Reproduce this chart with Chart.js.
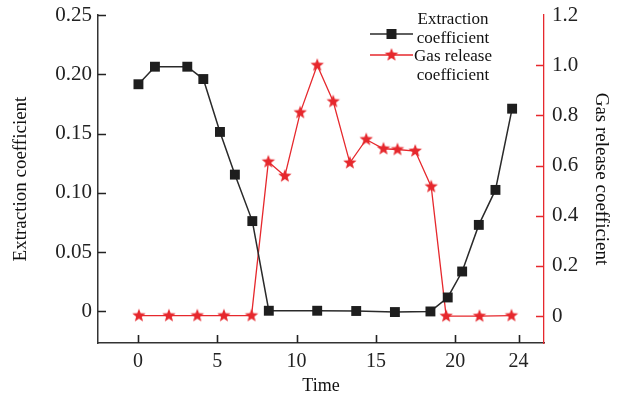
<!DOCTYPE html>
<html>
<head>
<meta charset="utf-8">
<script src="https://cdn.jsdelivr.net/npm/chart.js@4.4.1/dist/chart.umd.min.js"></script>
<style>
  html, body { margin: 0; padding: 0; background: #fff; }
  #wrap { width: 617px; height: 396px; }
</style>
</head>
<body>
<div id="wrap"><canvas id="chart" width="617" height="396"></canvas></div>
<script>
// datos
const extractionTime = [0.03, 1.07, 3.11, 4.12, 5.17, 6.11, 7.21, 8.25, 11.3, 13.76, 16.2, 18.44, 19.53, 20.44, 21.49, 22.54, 23.59];
const extractionCoef = [0.1916, 0.2064, 0.2064, 0.196, 0.1514, 0.1154, 0.0762, 0.0006, 0.0006, 0.0004, -0.0005, 0.0, 0.0118, 0.0337, 0.073, 0.1025, 0.171];

const gasTime = [0.06, 1.95, 3.74, 5.42, 7.16, 8.22, 9.26, 10.23, 11.3, 12.31, 13.36, 14.39, 15.48, 16.36, 17.48, 18.49, 19.43, 21.53, 23.55];
const gasCoef = [0.002, 0.002, 0.002, 0.002, 0.002, 0.615, 0.558, 0.811, 1.0, 0.855, 0.611, 0.704, 0.667, 0.664, 0.658, 0.516, 0.0, 0.0, 0.002];

const xTicks = [0, 5, 10, 15, 20, 24];
const leftTicks = [0, 0.05, 0.10, 0.15, 0.20, 0.25];
const rightTicks = [0, 0.2, 0.4, 0.6, 0.8, 1.0, 1.2];

const FONT = '"Liberation Serif", "Times New Roman", serif';
const RED = '#e6282d';
const BLACK = '#1e1e1e';

function makeStar(r, color) {
    const c = document.createElement('canvas');
    const s = Math.ceil(r * 2 + 2);
    c.width = s; c.height = s;
    const g = c.getContext('2d');
    g.fillStyle = color;
    g.beginPath();
    for (let i = 0; i < 10; i++) {
        const rad = i % 2 === 0 ? r : r * 0.42;
        const a = -Math.PI / 2 + i * Math.PI / 5;
        const px = s / 2 + rad * Math.cos(a);
        const py = s / 2 + rad * Math.sin(a);
        if (i === 0) g.moveTo(px, py); else g.lineTo(px, py);
    }
    g.closePath();
    g.fill();
    return c;
}
const starImg = makeStar(7, RED);

// marcas cortas hacia dentro del área
const innerTicks = {
    id: 'innerTicks',
    afterDraw(chart) {
        const ctx = chart.ctx;
        const a = chart.chartArea;
        const len = 8;
        const sx = chart.scales.x, sy = chart.scales.y, sy1 = chart.scales.y1;
        ctx.save();
        ctx.lineWidth = 1.6;
        ctx.strokeStyle = '#222';
        ctx.beginPath();
        for (const v of xTicks) {
            const px = Math.round(sx.getPixelForValue(v)) + 0.5;
            ctx.moveTo(px, a.bottom);
            ctx.lineTo(px, a.bottom - len);
        }
        for (const v of leftTicks) {
            const py = Math.round(sy.getPixelForValue(v)) + 0.5;
            ctx.moveTo(a.left, py);
            ctx.lineTo(a.left + len, py);
        }
        ctx.stroke();
        ctx.strokeStyle = RED;
        ctx.beginPath();
        for (const v of rightTicks.slice(0, -1)) {
            const py = Math.round(sy1.getPixelForValue(v)) + 0.5;
            ctx.moveTo(a.right, py);
            ctx.lineTo(a.right - len, py);
        }
        ctx.stroke();
        ctx.restore();
    }
};

// leyenda con texto en dos líneas
const twoLineLegend = {
    id: 'twoLineLegend',
    afterDraw(chart) {
        const ctx = chart.ctx;
        const items = [
            { lines: ['Extraction', 'coefficient'], lineY: 34, textY: [20, 39], ds: 0 },
            { lines: ['Gas release', 'coefficient'], lineY: 55, textY: [57, 76], ds: 1 }
        ];
        ctx.save();
        ctx.font = '17px ' + FONT;
        ctx.textAlign = 'center';
        ctx.textBaseline = 'middle';
        items.forEach(it => {
            const ds = chart.data.datasets[it.ds];
            ctx.strokeStyle = ds.borderColor;
            ctx.lineWidth = ds.borderWidth;
            ctx.beginPath(); ctx.moveTo(370, it.lineY); ctx.lineTo(413, it.lineY); ctx.stroke();
            if (it.ds === 0) {
                ctx.fillStyle = BLACK;
                ctx.fillRect(391.5 - 5, it.lineY - 5, 10, 10);
            } else {
                ctx.drawImage(starImg, 391.5 - starImg.width / 2, it.lineY - starImg.height / 2);
            }
            ctx.fillStyle = '#111';
            ctx.fillText(it.lines[0], 453, it.textY[0]);
            ctx.fillText(it.lines[1], 453, it.textY[1]);
        });
        ctx.restore();
    }
};

function fixedBox(w, h) {
    return s => {
        if (w) s.width = w;
        if (h) s.height = h;
        s.paddingTop = 0; s.paddingBottom = 0;
        s.paddingLeft = 0; s.paddingRight = 0;
    };
}

document.addEventListener('DOMContentLoaded', function() {
    if (typeof Chart === 'undefined') {
        console.error('Chart.js no está disponible');
        return;
    }
    const ctx = document.getElementById('chart').getContext('2d');
    const noGrid = { display: false, drawTicks: false, tickLength: 0 };

    new Chart(ctx, {
        type: 'line',
        data: {
            datasets: [
                {
                    label: 'Extraction coefficient',
                    data: extractionTime.map((t, i) => ({ x: t, y: extractionCoef[i] })),
                    yAxisID: 'y',
                    borderColor: '#2a2a2a',
                    borderWidth: 1.5,
                    backgroundColor: BLACK,
                    pointStyle: 'rect',
                    pointRadius: 7,
                    pointBorderWidth: 0,
                    pointBackgroundColor: BLACK,
                    tension: 0
                },
                {
                    label: 'Gas release coefficient',
                    data: gasTime.map((t, i) => ({ x: t, y: gasCoef[i] })),
                    yAxisID: 'y1',
                    borderColor: RED,
                    borderWidth: 1.3,
                    backgroundColor: RED,
                    pointStyle: starImg,
                    pointRadius: 7,
                    tension: 0
                }
            ]
        },
        options: {
            responsive: false,
            animation: false,
            layout: { padding: { top: 15, left: 0, right: 0, bottom: 0 } },
            plugins: {
                legend: { display: false },
                tooltip: { enabled: false }
            },
            scales: {
                x: {
                    type: 'linear',
                    position: 'bottom',
                    min: -2.52,
                    max: 25.6,
                    afterBuildTicks: s => { s.ticks = xTicks.map(v => ({ value: v })); },
                    afterFit: fixedBox(0, 53),
                    grid: noGrid,
                    border: { display: true, color: '#333', width: 1.5 },
                    ticks: {
                        font: { family: FONT, size: 20 },
                        color: '#222',
                        padding: 7,
                        maxRotation: 0,
                        autoSkip: false
                    },
                    title: {
                        display: true,
                        text: 'Time',
                        font: { family: FONT, size: 18 },
                        color: '#111',
                        padding: { top: 0, bottom: -1 }
                    }
                },
                y: {
                    position: 'left',
                    min: -0.0266,
                    max: 0.25,
                    afterBuildTicks: s => { s.ticks = leftTicks.map(v => ({ value: v })); },
                    afterFit: fixedBox(98, 0),
                    grid: noGrid,
                    border: { display: true, color: '#333', width: 1.5 },
                    ticks: {
                        font: { family: FONT, size: 21 },
                        color: '#222',
                        padding: 6,
                        callback: v => v === 0 ? '0' : v.toFixed(2)
                    },
                    title: {
                        display: true,
                        text: 'Extraction coefficient',
                        font: { family: FONT, size: 19 },
                        color: '#111',
                        padding: { top: 10, bottom: 0 }
                    }
                },
                y1: {
                    position: 'right',
                    min: -0.107,
                    max: 1.2,
                    afterBuildTicks: s => { s.ticks = rightTicks.map(v => ({ value: v })); },
                    afterFit: fixedBox(73, 0),
                    grid: noGrid,
                    border: { display: true, color: RED, width: 1.3 },
                    ticks: {
                        font: { family: FONT, size: 21 },
                        color: '#222',
                        padding: 8,
                        callback: v => v === 0 ? '0' : v.toFixed(1)
                    },
                    title: {
                        display: true,
                        text: 'Gas release coefficient',
                        font: { family: FONT, size: 19 },
                        color: '#111',
                        padding: { top: 5, bottom: 0 }
                    }
                }
            }
        },
        plugins: [innerTicks, twoLineLegend]
    });
});
</script>
</body>
</html>
